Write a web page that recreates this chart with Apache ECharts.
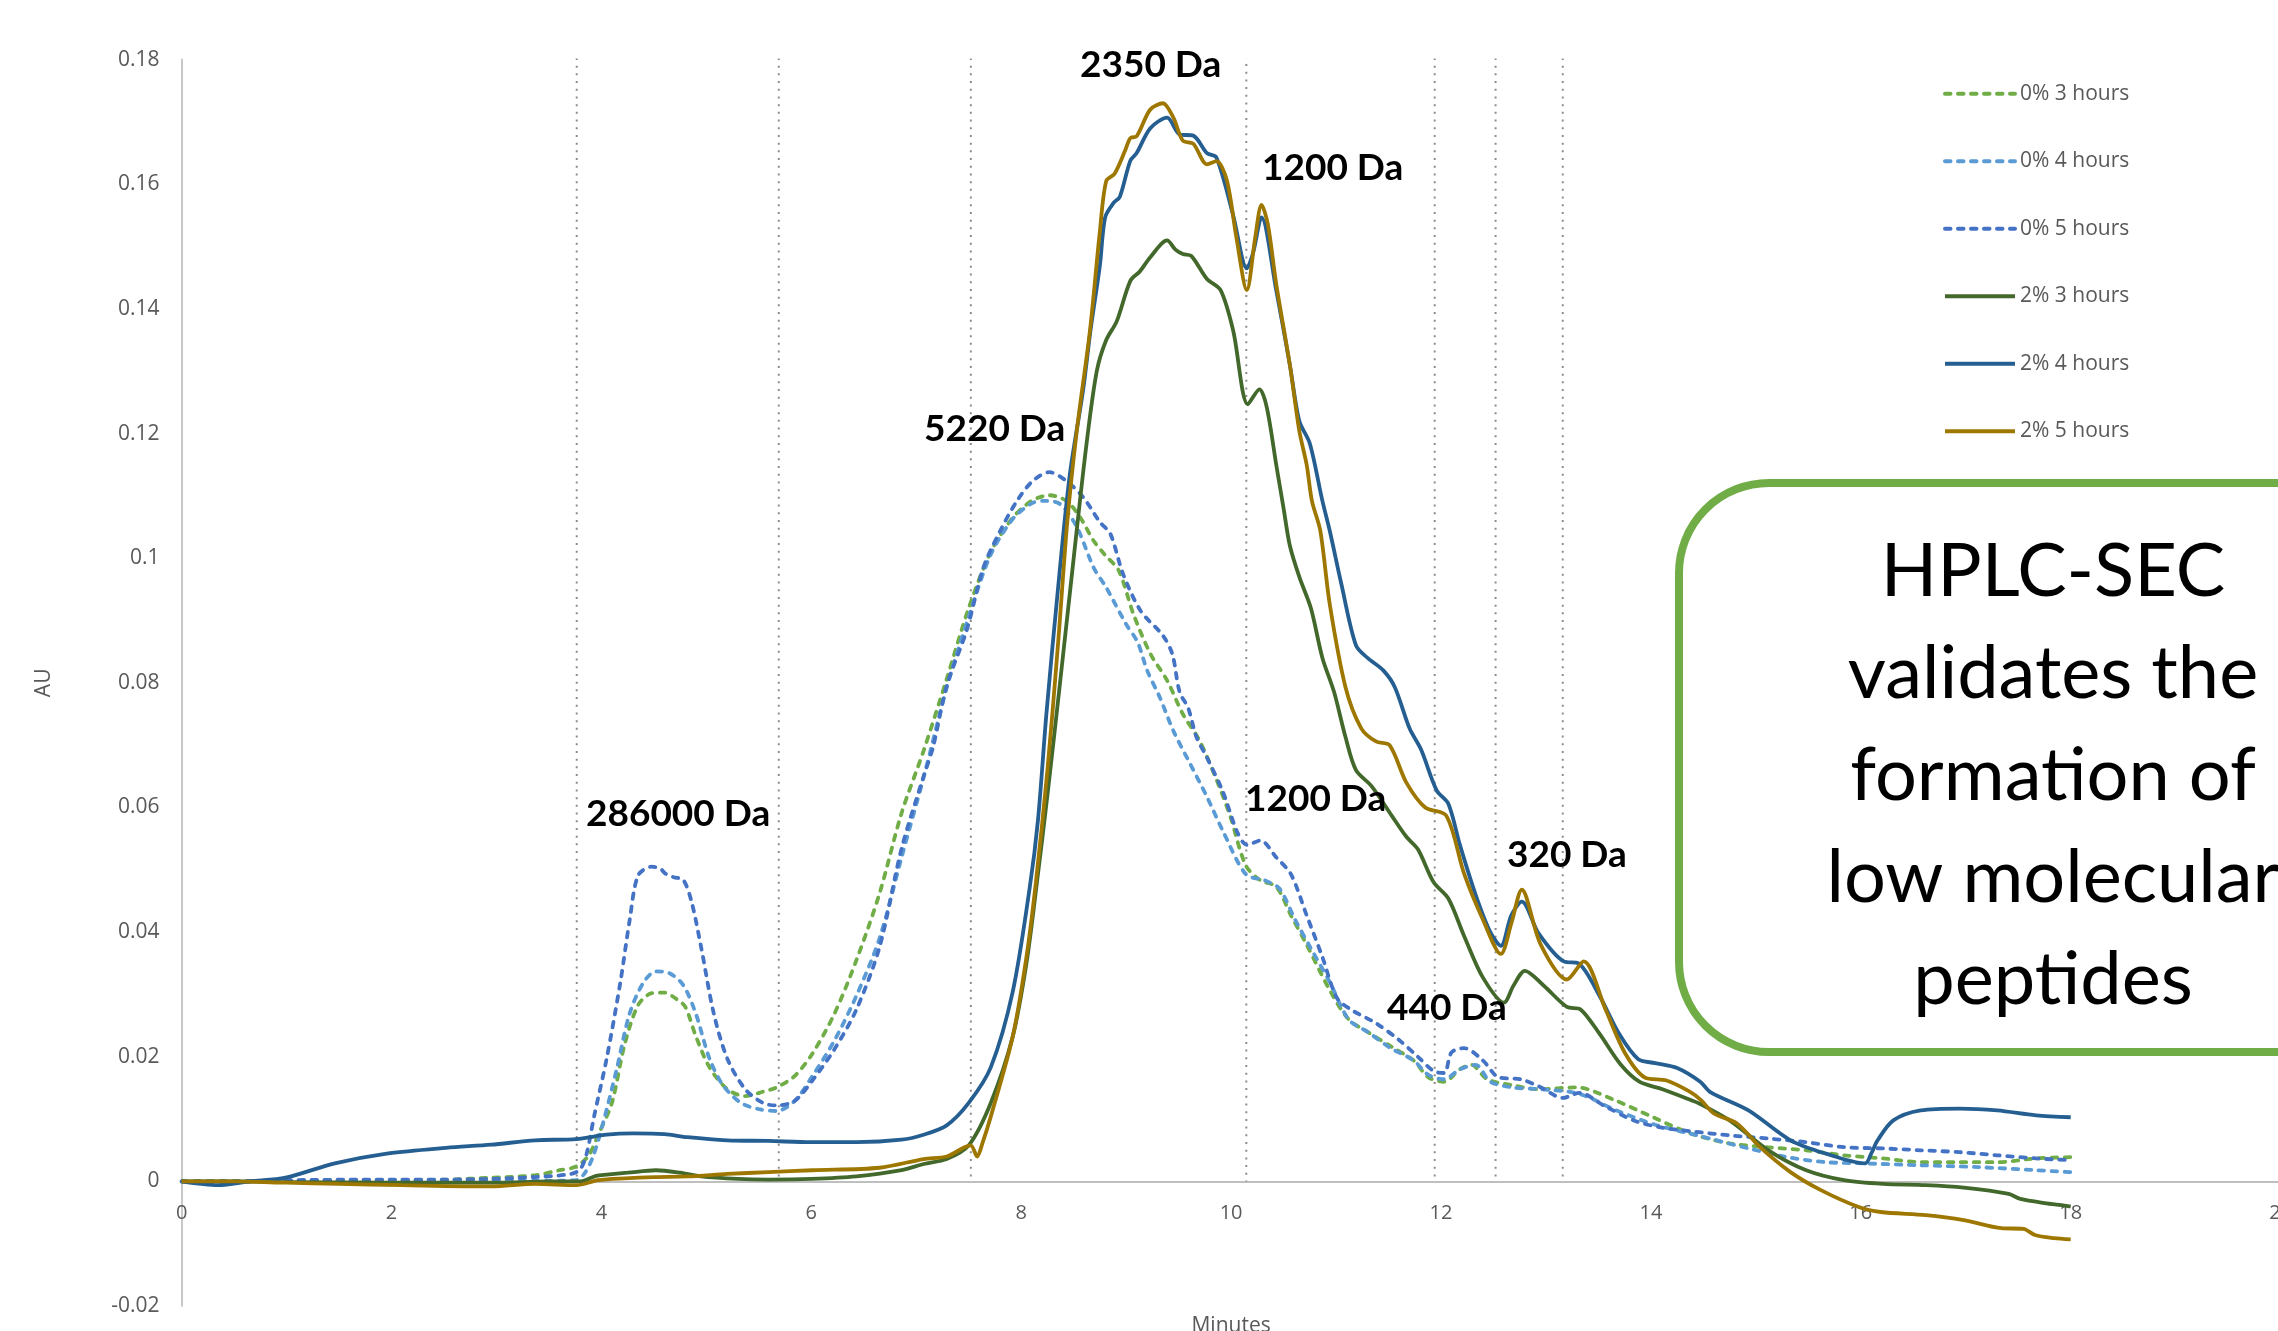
<!DOCTYPE html>
<html>
<head>
<meta charset="utf-8">
<title>HPLC-SEC chromatograms</title>
<script src="https://cdn.jsdelivr.net/npm/echarts@6/dist/echarts.min.js"></script>
<style>
  html, body { margin: 0; padding: 0; background: #ffffff; }
  #chart { width: 2278px; height: 1331px; }
</style>
</head>
<body>
<div id="chart"></div>
<script>
// Series names as shown in the legend
const seriesNames = ['0% 3 hours', '0% 4 hours', '0% 5 hours', '2% 3 hours', '2% 4 hours', '2% 5 hours'];

// Absorbance traces: [retention time (min), AU]
const pct0h3 = [[0,0],[0.5,0],[1,0.0001],[1.5,0.0002],[2,0.0002],[2.52,0.0003],[2.95,0.0006],[3.37,0.001],[3.6,0.0018],[3.76,0.0024],[3.88,0.0042],[3.97,0.0075],[4.10,0.0126],[4.22,0.0219],[4.35,0.0283],[4.48,0.0302],[4.6,0.0303],[4.72,0.0292],[4.80,0.028],[4.90,0.0233],[5.03,0.0183],[5.20,0.0148],[5.37,0.0137],[5.54,0.0144],[5.67,0.0151],[5.84,0.0169],[6.01,0.0205],[6.22,0.0269],[6.43,0.0355],[6.65,0.0462],[6.86,0.0591],[7.07,0.0691],[7.29,0.0806],[7.50,0.092],[7.71,0.101],[7.92,0.1065],[8.1,0.1092],[8.27,0.1101],[8.43,0.1092],[8.56,0.1066],[8.69,0.1028],[8.80,0.1005],[8.93,0.098],[9.07,0.091],[9.23,0.0847],[9.39,0.0804],[9.54,0.075],[9.70,0.0707],[9.86,0.0645],[9.99,0.0587],[10.14,0.0507],[10.28,0.0483],[10.43,0.0473],[10.57,0.0427],[10.72,0.038],[10.94,0.0307],[11.12,0.026],[11.30,0.024],[11.52,0.0217],[11.74,0.0194],[11.88,0.0167],[12.03,0.016],[12.18,0.018],[12.29,0.0187],[12.44,0.0164],[12.69,0.0154],[12.94,0.0148],[13.29,0.0151],[13.66,0.013],[14.02,0.0103],[14.38,0.0077],[14.75,0.0061],[15.11,0.0055],[15.48,0.005],[15.84,0.0042],[16.21,0.0037],[16.57,0.0031],[16.94,0.0031],[17.30,0.0031],[17.67,0.0037],[18.0,0.0039]];

const pct0h4 = [[0,0],[1,0.0001],[2,0.0001],[3,0.0001],[3.5,0.0001],[3.76,0.0002],[3.84,0.0013],[3.92,0.004],[4.01,0.009],[4.14,0.0176],[4.27,0.027],[4.40,0.0319],[4.52,0.0337],[4.65,0.0334],[4.78,0.0315],[4.90,0.0269],[5.03,0.0197],[5.16,0.0154],[5.33,0.0126],[5.50,0.0116],[5.67,0.0113],[5.84,0.0129],[6.01,0.0169],[6.22,0.0226],[6.43,0.0298],[6.65,0.039],[6.86,0.052],[7.07,0.0648],[7.29,0.0792],[7.50,0.0906],[7.71,0.1006],[7.92,0.1063],[8.10,0.1088],[8.22,0.1092],[8.37,0.1087],[8.53,0.105],[8.69,0.0985],[8.81,0.0953],[9.00,0.0894],[9.11,0.0865],[9.20,0.082],[9.32,0.0777],[9.45,0.0723],[9.61,0.067],[9.77,0.0617],[9.92,0.0563],[10.14,0.0493],[10.32,0.0483],[10.46,0.047],[10.61,0.042],[10.76,0.0374],[10.94,0.032],[11.12,0.026],[11.30,0.024],[11.52,0.0214],[11.74,0.0194],[11.88,0.0171],[12.03,0.0164],[12.18,0.018],[12.33,0.0187],[12.47,0.016],[12.68,0.0151],[12.94,0.0148],[13.31,0.0141],[13.67,0.0114],[14.04,0.0091],[14.44,0.0074],[14.93,0.0053],[15.30,0.0039],[15.66,0.0031],[16.03,0.0029],[16.57,0.0026],[17.12,0.0023],[17.67,0.0018],[18.0,0.0015]];

const pct0h5 = [[0,0],[0.5,0],[1,0.0002],[2,0.0003],[2.52,0.0003],[2.95,0.0004],[3.37,0.0007],[3.71,0.0012],[3.80,0.002],[3.86,0.0045],[3.93,0.0104],[4.05,0.0197],[4.18,0.0319],[4.27,0.042],[4.35,0.0491],[4.48,0.0505],[4.56,0.0502],[4.61,0.0494],[4.69,0.0488],[4.78,0.0484],[4.86,0.0448],[4.95,0.0376],[5.07,0.027],[5.20,0.0197],[5.37,0.0148],[5.54,0.0126],[5.67,0.0122],[5.84,0.0129],[6.01,0.0162],[6.22,0.0212],[6.43,0.0276],[6.65,0.0376],[6.86,0.0534],[7.07,0.065],[7.16,0.0697],[7.29,0.0795],[7.48,0.0884],[7.64,0.0985],[7.80,0.1044],[7.96,0.1092],[8.11,0.1124],[8.27,0.1138],[8.43,0.1124],[8.59,0.1098],[8.75,0.1058],[8.85,0.1039],[8.97,0.0975],[9.14,0.0915],[9.35,0.0876],[9.44,0.0846],[9.51,0.0785],[9.59,0.076],[9.67,0.0713],[9.77,0.068],[9.92,0.0626],[10.06,0.056],[10.15,0.054],[10.28,0.0547],[10.43,0.052],[10.57,0.0493],[10.72,0.0427],[10.87,0.036],[11.01,0.0294],[11.16,0.0274],[11.38,0.0254],[11.60,0.0227],[11.78,0.02],[11.93,0.0177],[12.03,0.0174],[12.10,0.0207],[12.22,0.0214],[12.40,0.0194],[12.55,0.0167],[12.76,0.0164],[12.94,0.0152],[13.16,0.0134],[13.32,0.0142],[13.56,0.0121],[13.85,0.0097],[14.12,0.0086],[14.41,0.008],[14.75,0.0074],[15.11,0.0069],[15.48,0.0063],[15.84,0.0055],[16.21,0.0053],[16.57,0.005],[16.94,0.0047],[17.30,0.0042],[17.67,0.0037],[18.0,0.0034]];

const pct2h3 = [[0,0],[0.5,0],[1,-0.0001],[2,-0.0002],[3,-0.0002],[3.5,0],[3.80,0],[3.95,0.0009],[4.05,0.0011],[4.25,0.0014],[4.52,0.0018],[4.75,0.0014],[4.95,0.0008],[5.3,0.0004],[5.59,0.0003],[6.0,0.0004],[6.43,0.0008],[6.86,0.0018],[7.07,0.0028],[7.29,0.0036],[7.5,0.0058],[7.71,0.0126],[7.92,0.0233],[8.05,0.035],[8.15,0.048],[8.25,0.062],[8.37,0.08],[8.50,0.1],[8.62,0.118],[8.72,0.13],[8.81,0.135],[8.91,0.138],[9.04,0.1445],[9.13,0.146],[9.23,0.1483],[9.39,0.151],[9.47,0.1495],[9.54,0.1488],[9.62,0.1485],[9.77,0.1448],[9.90,0.143],[10.02,0.1365],[10.16,0.1247],[10.27,0.1271],[10.34,0.1242],[10.43,0.115],[10.50,0.108],[10.56,0.102],[10.65,0.097],[10.76,0.092],[10.87,0.084],[10.98,0.0786],[11.09,0.0713],[11.19,0.066],[11.34,0.0634],[11.53,0.0587],[11.67,0.0553],[11.78,0.0533],[11.93,0.048],[12.07,0.0454],[12.22,0.0394],[12.40,0.0327],[12.60,0.0287],[12.69,0.0314],[12.80,0.0338],[12.98,0.0314],[13.20,0.028],[13.33,0.0276],[13.51,0.0237],[13.71,0.0188],[13.89,0.016],[14.11,0.0148],[14.33,0.0134],[14.46,0.0125],[14.75,0.0098],[15.12,0.005],[15.48,0.0018],[15.84,0.0002],[16.21,-0.0004],[16.62,-0.0006],[16.98,-0.001],[17.41,-0.002],[17.52,-0.0028],[17.77,-0.0035],[18.0,-0.004]];

const pct2h4 = [[0,0],[0.35,-0.0006],[0.65,0],[0.99,0.0006],[1.46,0.0029],[1.97,0.0045],[2.52,0.0054],[2.95,0.0059],[3.37,0.0066],[3.76,0.0068],[4.05,0.0075],[4.3,0.0077],[4.6,0.0076],[4.82,0.0071],[5.2,0.0066],[5.59,0.0065],[6.0,0.0063],[6.43,0.0063],[6.86,0.0067],[7.07,0.0075],[7.29,0.009],[7.5,0.0126],[7.71,0.0183],[7.92,0.0305],[8.08,0.047],[8.16,0.058],[8.24,0.075],[8.35,0.095],[8.46,0.113],[8.59,0.127],[8.66,0.1365],[8.75,0.147],[8.80,0.1547],[8.88,0.157],[8.94,0.158],[9.04,0.1638],[9.10,0.165],[9.23,0.169],[9.39,0.1707],[9.51,0.168],[9.64,0.1678],[9.77,0.165],[9.86,0.1643],[10.02,0.155],[10.15,0.1465],[10.21,0.149],[10.29,0.1547],[10.43,0.143],[10.56,0.131],[10.65,0.122],[10.75,0.1184],[10.87,0.1092],[10.94,0.1044],[11.05,0.0959],[11.19,0.086],[11.30,0.084],[11.45,0.082],[11.56,0.0793],[11.70,0.0727],[11.81,0.0693],[11.96,0.0627],[12.07,0.0606],[12.18,0.054],[12.33,0.046],[12.47,0.04],[12.57,0.0378],[12.67,0.0427],[12.77,0.0449],[12.93,0.0398],[13.17,0.0353],[13.31,0.035],[13.51,0.0298],[13.70,0.0236],[13.88,0.0196],[14.04,0.019],[14.25,0.0182],[14.47,0.016],[14.57,0.0143],[14.93,0.0114],[15.33,0.0066],[15.66,0.0045],[16.04,0.0029],[16.10,0.0045],[16.16,0.0066],[16.31,0.0098],[16.57,0.0114],[16.94,0.0117],[17.30,0.0114],[17.67,0.0106],[18.0,0.0103]];

const pct2h5 = [[0,0],[0.5,0],[1,-0.0002],[1.5,-0.0004],[2.1,-0.0006],[2.95,-0.0008],[3.37,-0.0004],[3.76,-0.0006],[3.97,0.0002],[4.22,0.0005],[4.5,0.0007],[4.82,0.0008],[5.2,0.0012],[5.59,0.0015],[6.01,0.0018],[6.65,0.0022],[7.07,0.0036],[7.29,0.004],[7.46,0.0055],[7.52,0.0058],[7.58,0.004],[7.63,0.0061],[7.71,0.0104],[7.92,0.0233],[8.05,0.036],[8.14,0.048],[8.25,0.066],[8.35,0.086],[8.44,0.106],[8.53,0.1205],[8.655,0.1365],[8.75,0.1525],[8.81,0.1605],[8.89,0.1617],[8.99,0.1654],[9.04,0.1674],[9.10,0.1677],[9.23,0.172],[9.35,0.173],[9.45,0.1707],[9.54,0.167],[9.64,0.1665],[9.77,0.1632],[9.86,0.1637],[9.96,0.1606],[10.05,0.1515],[10.15,0.143],[10.23,0.1515],[10.29,0.1567],[10.35,0.1536],[10.43,0.144],[10.56,0.131],[10.65,0.1204],[10.72,0.115],[10.77,0.1092],[10.85,0.1044],[10.94,0.0926],[11.09,0.0793],[11.24,0.0727],[11.38,0.0706],[11.51,0.07],[11.67,0.064],[11.85,0.06],[12.05,0.0587],[12.22,0.0494],[12.40,0.042],[12.57,0.0365],[12.67,0.0414],[12.77,0.0468],[12.95,0.038],[13.20,0.0324],[13.36,0.0353],[13.57,0.0275],[13.75,0.0207],[13.94,0.0167],[14.15,0.0162],[14.37,0.0144],[14.48,0.013],[14.60,0.0109],[14.82,0.0093],[15.04,0.0055],[15.33,0.0015],[15.62,-0.0014],[15.98,-0.0041],[16.19,-0.0049],[16.62,-0.0054],[16.98,-0.0062],[17.34,-0.0075],[17.55,-0.0076],[17.66,-0.0086],[17.84,-0.0091],[18.0,-0.0093]];

// Retention times of the reference markers (dotted verticals) and their upper ends (AU)
const markerTimes = [3.765, 5.69, 7.52, 10.145, 11.94, 12.52, 13.16];
const markerTops = [0.1815, 0.1815, 0.1815, 0.183, 0.1815, 0.1815, 0.1815];

// Axis ranges
const xRange = { min: 0, max: 20, step: 2 };
const yRange = { min: -0.02, max: 0.18, step: 0.02 };

// Molecular-weight call-outs
const massLabels = ['286000 Da', '5220 Da', '2350 Da', '1200 Da', '1200 Da', '440 Da', '320 Da'];
const noteLines = ['HPLC-SEC', 'validates the', 'formation of', 'low molecular', 'peptides'];

const traces = [pct0h3, pct0h4, pct0h5, pct2h3, pct2h4, pct2h5];
const colors = ['#70AD47', '#5B9BD5', '#4472C4', '#43682B', '#255E91', '#9E7700'];
const isDashed = [true, true, true, false, false, false];

// Placement of call-outs: [left x, text-middle y] in pixels
const labelSpots = [[586, 814], [924, 429], [1080, 65], [1262, 168], [1245, 799], [1387, 1008], [1507, 855]];

// Plot frame in pixels
const plot = { left: 181.6, top: 59.6, width: 2099, height: 1246.5 };
// The x axis sits on the zero line: lift it from the frame bottom by the zero position
const zeroLift = plot.height * (0 - yRange.min) / (yRange.max - yRange.min);

const chart = echarts.init(document.getElementById('chart'), null, { renderer: 'canvas' });

const textColor = '#595959';
const axisFont = 'Open Sans';

const lineSeries = traces.map((d, i) => ({
  name: seriesNames[i],
  type: 'line',
  data: d,
  smooth: 0.3,
  symbol: 'none',
  showSymbol: false,
  z: 3,
  lineStyle: {
    color: colors[i],
    width: 3.8,
    type: isDashed[i] ? [5.5, 7.5] : 'solid',
    cap: isDashed[i] ? 'round' : 'butt'
  },
  itemStyle: { color: colors[i] },
  emphasis: { disabled: true }
}));

// Dotted reference verticals, each a two-point line from its top down to the baseline
const markerSeries = markerTimes.map((t, k) => ({
  name: 'marker ' + k,
  type: 'line',
  data: [[t, markerTops[k]], [t, 0]],
  symbol: 'none',
  showSymbol: false,
  silent: true,
  z: 2,
  lineStyle: { color: '#8c8c8c', width: 2, type: [2, 5.7], cap: 'butt' },
  emphasis: { disabled: true }
}));

const graphics = [
  {
    type: 'rect',
    z: 5,
    shape: { x: 1679, y: 483, width: 800, height: 569, r: 90 },
    style: { fill: '#ffffff', stroke: '#70AD47', lineWidth: 8 }
  },
  {
    type: 'text',
    z: 6,
    style: {
      text: noteLines.join('\n'),
      x: 2053,
      y: 521,
      fill: '#000000',
      font: '74px Lato',
      fontSize: 74,
      fontFamily: 'Lato',
      lineHeight: 102,
      align: 'center',
      textAlign: 'center',
      verticalAlign: 'top',
      textVerticalAlign: 'top'
    }
  }
].concat(massLabels.map((t, k) => ({
  type: 'text',
  z: 6,
  style: {
    text: t,
    x: labelSpots[k][0],
    y: labelSpots[k][1],
    fill: '#000000',
    font: 'bold 37px Lato',
    fontSize: 37,
    fontWeight: 'bold',
    fontFamily: 'Lato',
    align: 'left',
    textAlign: 'left',
    verticalAlign: 'middle',
    textVerticalAlign: 'middle'
  }
})));

chart.setOption({
  animation: false,
  backgroundColor: '#ffffff',
  grid: {
    left: plot.left, top: plot.top, width: plot.width, height: plot.height,
    containLabel: false,
    outerBoundsMode: 'none'
  },
  legend: {
    data: seriesNames,
    orient: 'vertical',
    left: 1943,
    top: 83.3,
    padding: 0,
    itemWidth: 70,
    itemHeight: 20,
    itemGap: 46.5,
    selectedMode: false,
    itemStyle: { opacity: 0 },
    lineStyle: { width: 4 },
    textStyle: { color: textColor, fontSize: 21, fontFamily: axisFont, lineHeight: 20 }
  },
  xAxis: {
    type: 'value',
    min: xRange.min,
    max: xRange.max,
    interval: xRange.step,
    offset: -zeroLift,
    name: 'Minutes',
    nameLocation: 'middle',
    nameGap: 134,
    nameTextStyle: { color: textColor, fontSize: 21, fontFamily: axisFont },
    axisLine: { show: true, onZero: false, lineStyle: { color: '#bfbfbf', width: 2 } },
    axisTick: { show: false },
    splitLine: { show: false },
    axisLabel: { color: textColor, fontSize: 20, fontFamily: axisFont, margin: 22 }
  },
  yAxis: {
    type: 'value',
    min: yRange.min,
    max: yRange.max,
    interval: yRange.step,
    name: 'AU',
    nameLocation: 'middle',
    nameRotate: 90,
    nameGap: 127,
    nameTextStyle: { color: textColor, fontSize: 21, fontFamily: axisFont },
    axisLine: { show: true, onZero: false, lineStyle: { color: '#c8c8c8', width: 2 } },
    axisTick: { show: false },
    splitLine: { show: false },
    axisLabel: {
      color: textColor,
      fontSize: 21,
      fontFamily: axisFont,
      margin: 22,
      formatter: v => String(Number(v.toFixed(2)))
    }
  },
  graphic: graphics,
  series: markerSeries.concat(lineSeries)
});
</script>
</body>
</html>
